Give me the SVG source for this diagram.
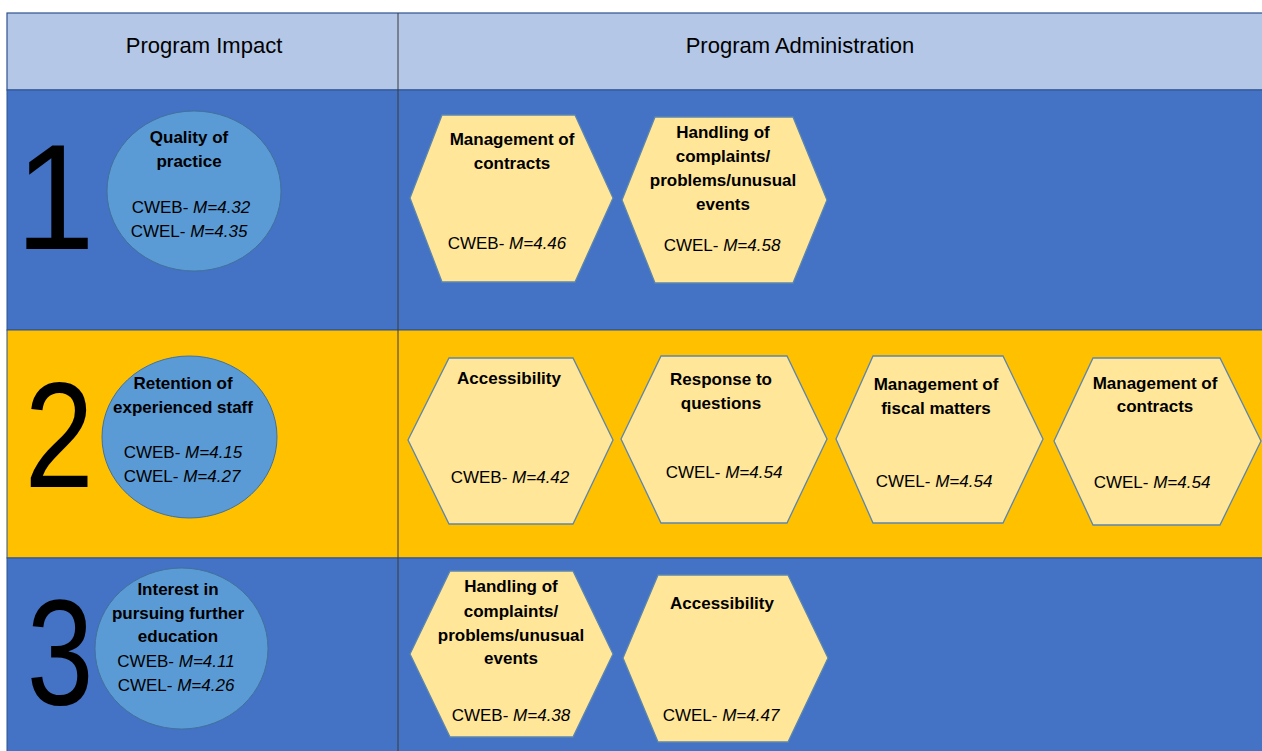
<svg xmlns="http://www.w3.org/2000/svg" width="1262" height="751" viewBox="0 0 1262 751">
<style>
.hdr{font-family:"Liberation Sans",Arial,sans-serif;font-size:22px;fill:#000;text-anchor:middle}
.num{font-family:"Liberation Sans",Arial,sans-serif;font-size:150px;fill:#000;text-anchor:middle}
.b{font-family:"Liberation Sans",Arial,sans-serif;font-size:17px;font-weight:bold;fill:#000;text-anchor:middle}
.r{font-family:"Liberation Sans",Arial,sans-serif;font-size:17px;fill:#000;text-anchor:middle}
.i{font-style:italic}
.circ{fill:#5B9BD5;stroke:#41719C;stroke-width:1}
.hex{fill:#FFE699;stroke:#5B86B0;stroke-width:1.3}
</style>
<rect x="0" y="0" width="1262" height="751" fill="#FFFFFF"/>
<g id="table">
<rect x="7" y="13" width="1262" height="77" fill="#B4C7E7" stroke="#2F528F" stroke-width="1.2"/>
<rect x="7" y="90" width="1262" height="240" fill="#4472C4" stroke="#2F528F" stroke-width="1"/>
<rect x="7" y="330" width="1262" height="228" fill="#FFC000" stroke="#2F528F" stroke-width="1"/>
<rect x="7" y="558" width="1262" height="200" fill="#4472C4" stroke="#2F528F" stroke-width="1"/>
<line x1="398" y1="13" x2="398" y2="751" stroke="#3A3A3A" stroke-width="1"/>
<text class="hdr" x="204" y="53">Program Impact</text>
<text class="hdr" x="800" y="53">Program Administration</text>
<text class="num" transform="translate(55,249) scale(0.95,1)" x="0" y="0">1</text>
<text class="num" transform="translate(59,487) scale(0.83,1)" x="0" y="0">2</text>
<text class="num" transform="translate(60,705) scale(0.8,1)" x="0" y="0">3</text>
</g>
<g id="impact1">
<ellipse class="circ" cx="194" cy="191" rx="87" ry="80"/>
<text class="b" x="189" y="143">Quality of</text>
<text class="b" x="189" y="167">practice</text>
<text class="r" x="191" y="213">CWEB- <tspan class="i">M=4.32</tspan></text>
<text class="r" x="189" y="237">CWEL- <tspan class="i">M=4.35</tspan></text>
</g>
<g id="impact2">
<ellipse class="circ" cx="189.5" cy="437" rx="87.5" ry="81"/>
<text class="b" x="183" y="389">Retention of</text>
<text class="b" x="183" y="413">experienced staff</text>
<text class="r" x="183" y="458">CWEB- <tspan class="i">M=4.15</tspan></text>
<text class="r" x="182" y="482">CWEL- <tspan class="i">M=4.27</tspan></text>
</g>
<g id="impact3">
<ellipse class="circ" cx="181.5" cy="648.5" rx="86.5" ry="80.5"/>
<text class="b" x="178" y="595">Interest in</text>
<text class="b" x="178" y="619">pursuing further</text>
<text class="b" x="178" y="642">education</text>
<text class="r" x="176" y="667">CWEB- <tspan class="i">M=4.11</tspan></text>
<text class="r" x="176" y="691">CWEL- <tspan class="i">M=4.26</tspan></text>
</g>
<g id="admin1a">
<polygon class="hex" points="410,198 442,115 575,115 613,198 575,282 442,282"/>
<text class="b" x="512" y="145">Management of</text>
<text class="b" x="512" y="169">contracts</text>
<text class="r" x="507" y="249">CWEB- <tspan class="i">M=4.46</tspan></text>
</g>
<g id="admin1b">
<polygon class="hex" points="622,200 655,117 793,117 827,200 793,283 655,283"/>
<text class="b" x="723" y="138">Handling of</text>
<text class="b" x="723" y="162">complaints/</text>
<text class="b" x="723" y="186">problems/unusual</text>
<text class="b" x="723" y="210">events</text>
<text class="r" x="722" y="251">CWEL- <tspan class="i">M=4.58</tspan></text>
</g>
<g id="admin2a">
<polygon class="hex" points="408,440 449,358 573,358 613,440 573,524 449,524"/>
<text class="b" x="509" y="384">Accessibility</text>
<text class="r" x="510" y="483">CWEB- <tspan class="i">M=4.42</tspan></text>
</g>
<g id="admin2b">
<polygon class="hex" points="621,439 661,356 787,356 827,439 787,523 661,523"/>
<text class="b" x="721" y="385">Response to</text>
<text class="b" x="721" y="409">questions</text>
<text class="r" x="724" y="478">CWEL- <tspan class="i">M=4.54</tspan></text>
</g>
<g id="admin2c">
<polygon class="hex" points="836,439 873,356 1003,356 1043,439 1003,523 873,523"/>
<text class="b" x="936" y="390">Management of</text>
<text class="b" x="936" y="414">fiscal matters</text>
<text class="r" x="934" y="487">CWEL- <tspan class="i">M=4.54</tspan></text>
</g>
<g id="admin2d">
<polygon class="hex" points="1054,441 1093,358 1220,358 1261,441 1220,525 1093,525"/>
<text class="b" x="1155" y="389">Management of</text>
<text class="b" x="1155" y="412">contracts</text>
<text class="r" x="1152" y="488">CWEL- <tspan class="i">M=4.54</tspan></text>
</g>
<g id="admin3a">
<polygon class="hex" points="410,654 450,571 573,571 613,654 573,737 450,737"/>
<text class="b" x="511" y="592">Handling of</text>
<text class="b" x="511" y="617">complaints/</text>
<text class="b" x="511" y="641">problems/unusual</text>
<text class="b" x="511" y="664">events</text>
<text class="r" x="511" y="721">CWEB- <tspan class="i">M=4.38</tspan></text>
</g>
<g id="admin3b">
<polygon class="hex" points="623,658 658,575 788,575 828,658 788,742 658,742"/>
<text class="b" x="722" y="609">Accessibility</text>
<text class="r" x="721" y="721">CWEL- <tspan class="i">M=4.47</tspan></text>
</g>
<g id="connectors"></g>
</svg>
